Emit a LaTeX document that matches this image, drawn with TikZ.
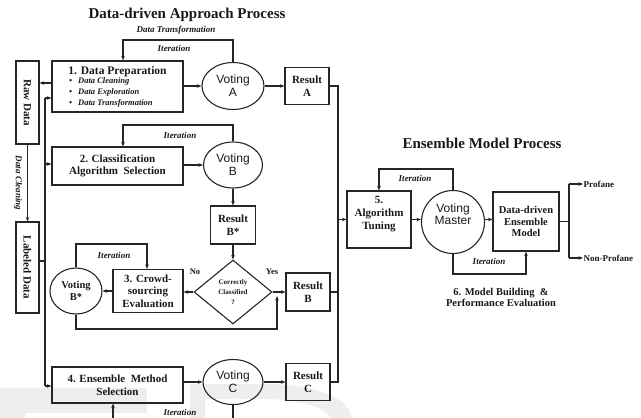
\documentclass[tikz,border=0pt]{standalone}
\usepackage{fontspec}
\setmainfont{Liberation Serif}
\newfontfamily\sansf{Liberation Sans}
\usetikzlibrary{arrows.meta,shapes.geometric}
\begin{document}
\begin{tikzpicture}[x=1pt,y=-1pt,
  ln/.style={line width=1.1pt, draw=black!85},
  arr/.style={ln, -{Stealth[length=4.5pt,width=3.6pt]}},
  boxn/.style={ln, rectangle, inner sep=0pt, align=center, text=black!90,
    font=\bfseries\fontsize{11}{12.5}\selectfont},
  vote/.style={ln, ellipse, inner sep=0pt, align=center, text=black!90,
    font=\sansf\fontsize{12}{13}\selectfont},
  itl/.style={inner sep=0pt, text=black!90, font=\bfseries\itshape\fontsize{9}{10}\selectfont},
  ttl/.style={inner sep=0pt, text=black!90, font=\bfseries\fontsize{15}{18}\selectfont},
  txt/.style={inner sep=0pt, align=center, text=black!90, font=\bfseries\fontsize{11}{12.5}\selectfont}
]
\useasboundingbox (0,0) rectangle (641,418);
\clip (0,0) rectangle (641,418);
% faint watermark
\fill[gray!13] (0,388) rectangle (147,418);
\fill[white] (25,413) rectangle (147,418);
\fill[gray!13,even odd rule] (190,384) -- (265,384) .. controls (320,384) and (350,400) .. (352,418) -- (190,418) -- cycle
  (205,399) -- (262,399) .. controls (305,399) and (328,410) .. (330,418) -- (205,418) -- cycle;

% titles
\node[ttl] (t1) at (187,15) {Data-driven Approach Process};
\node[itl] (dt) at (176,30) {Data Transformation};
\node[ttl] (t2) at (482,143) {Ensemble Model Process};

% left column
\node[boxn, minimum width=23pt, minimum height=83pt] (raw) at (27.5,102.5) {};
\node[txt, rotate=-90, font=\bfseries\fontsize{11}{13}\selectfont] (rawt) at (raw.center) {Raw Data};
\node[boxn, minimum width=23pt, minimum height=91pt] (lab) at (27.5,267.5) {};
\node[txt, rotate=-90, font=\bfseries\fontsize{11}{13}\selectfont] (labt) at (lab.center) {Labeled Data};
\node[itl, rotate=-90] (dc) at (18,183) {Data Cleaning};

% box 1
\node[boxn, minimum width=131pt, minimum height=51pt] (b1) at (117.5,86.5) {};
\node[txt, font=\bfseries\fontsize{11.5}{13}\selectfont] (b1t) at (117.5,72) {1. Data Preparation};
\node[itl, anchor=north west, align=left, font=\bfseries\itshape\fontsize{8.5}{11}\selectfont] (b1l) at (69,77)
  {\textbullet\hspace{6pt}Data Cleaning\\ \textbullet\hspace{6pt}Data Exploration\\ \textbullet\hspace{6pt}Data Transformation};
\node[vote, minimum width=62pt, minimum height=47pt] (va) at (233,86) {Voting\\A};
\node[boxn, minimum width=44pt, minimum height=37pt] (ra) at (307,86) {Result\\A};

% box 2
\node[boxn, minimum width=131pt, minimum height=38pt] (b2) at (117.5,166) {2. Classification\\Algorithm\ \ Selection};
\node[vote, minimum width=59pt, minimum height=46pt] (vb) at (233,165) {Voting\\B};
\node[boxn, minimum width=45pt, minimum height=38pt] (rbs) at (233,225) {Result\\B*};

% diamond row
\node[ln, diamond, minimum width=78pt, minimum height=64pt, inner sep=0pt] (dia) at (233,292) {};
\node[txt, font=\bfseries\fontsize{7}{10}\selectfont] (diat) at (233,292) {Correctly\\Classified\\?};
\node[boxn, minimum width=70pt, minimum height=43pt] (b3) at (148,291) {3. Crowd-\\sourcing\\Evaluation};
\node[vote, minimum width=52pt, minimum height=46pt, font=\bfseries\fontsize{10.5}{12}\selectfont] (vbs) at (76,291) {Voting\\B*};
\node[boxn, minimum width=44pt, minimum height=38pt] (rb) at (308,292) {Result\\B};
\node[txt, font=\bfseries\fontsize{8.5}{10}\selectfont] (no) at (195,272) {No};
\node[txt, font=\bfseries\fontsize{8.5}{10}\selectfont] (yes) at (272,272) {Yes};

% box 4
\node[boxn, minimum width=131pt, minimum height=36pt] (b4) at (117.5,385) {4. Ensemble\ \ Method\\Selection};
\node[vote, minimum width=60pt, minimum height=45pt] (vc) at (233,382) {Voting\\C};
\node[boxn, minimum width=44pt, minimum height=37pt] (rc) at (308,382) {Result\\C};

% iteration labels (left)
\node[itl] (i1) at (174,48) {Iteration};
\node[itl] (i2) at (180,135) {Iteration};
\node[itl] (i3) at (114,255) {Iteration};
\node[itl] (i4) at (180,412) {Iteration};

% left connectors
\coordinate (bt) at (45,98);
\coordinate (bb) at (45,386);
\draw[arr] (b1.west |- 0,83) -- (raw.east |- 0,83);
\draw[ln] (bt) -- (bb);
\draw[arr] (bt) -- (b1.west |- bt);
\draw[arr] (45,164) -- (b2.west |- 0,164);
\draw[arr] (bb) -- (b4.west |- bb);
\draw[ln] (lab.east |- 0,261) -- (45,261);
\draw[arr] (raw.south) -- (lab.north);

\draw[arr] (b1.east |- va.west) -- (va.west);
\draw[arr] (va.east) -- (ra.west |- va.east);
\draw[arr] (va.north) |- (123,40) -- (123,40 |- b1.north);

\draw[arr] (b2.east |- vb.west) -- (vb.west);
\draw[arr] (vb.north) |- (123,125) -- (123,125 |- b2.north);
\draw[arr] (vb.south) -- (rbs.north);
\draw[arr] (rbs.south) -- (dia.north);
\draw[arr] (dia.west) -- (b3.east |- dia.west);
\draw[arr] (b3.west) -- (vbs.east);
\draw[arr] (dia.east) -- (rb.west |- dia.east);
\draw[arr] (vbs.north) |- (147,244) -- (147,244 |- b3.north);
\draw[arr] (vbs.south) |- (277,329) -- (277,296);

\draw[arr] (b4.east |- vc.west) -- (vc.west);
\draw[arr] (vc.east) -- (rc.west |- vc.east);
\draw[arr] (vc.south) |- (113,430) -- (113,430 |- b4.south);

% right bus
\coordinate (rt) at (338,86);
\coordinate (rbot) at (338,382);
\draw[ln] (ra.east) -- (rt) -- (rbot) -- (rc.east);
\draw[ln] (rb.east) -- (rb.east -| rt);

% ensemble part
\node[boxn, minimum width=64pt, minimum height=57pt] (b5) at (379,219.5) {};
\node[txt, font=\bfseries\fontsize{11}{13}\selectfont] (b5t) at (379,214) {5.\\Algorithm\\Tuning};
\node[ln, circle, minimum size=63pt, inner sep=0pt] (vm) at (453,222) {};
\node[txt, font=\sansf\fontsize{12}{12.5}\selectfont] (vmt) at (453,214) {Voting\\Master};
\node[boxn, minimum width=66pt, minimum height=59pt, font=\bfseries\fontsize{10.5}{11.5}\selectfont] (dem) at (526,221.5) {Data-driven\\Ensemble\\Model};
\draw[arr] (rt |- b5.west) -- (b5.west);
\draw[arr] (b5.east) -- (b5.east -| vm.west);
\draw[arr] (vm.east |- b5.east) -- (dem.west |- b5.east);
\draw[arr] (vm.north) |- (379,169) -- (b5.north);
\draw[arr] (vm.south) |- (526,274) -- (dem.south);
\node[itl] (i5) at (415,178) {Iteration};
\node[itl] (i6) at (489,261) {Iteration};

\node[txt, anchor=west, inner sep=0.5pt, font=\bfseries\fontsize{9}{10}\selectfont] (prof) at (583,184) {Profane};
\node[txt, anchor=west, inner sep=0.5pt, font=\bfseries\fontsize{9}{10}\selectfont] (nprof) at (583,258) {Non-Profane};
\coordinate (s1) at (569,184);
\coordinate (s2) at (569,258);
\draw[ln] (dem.east) -- (dem.east -| s1);
\draw[ln] (s1) -- (s2);
\draw[arr] (s1) -- (prof.west);
\draw[arr] (s2) -- (nprof.west);

\node[txt, font=\bfseries\fontsize{10.5}{11.5}\selectfont] (mb) at (501,297.5) {6. Model Building\ \ \&\\Performance Evaluation};
\end{tikzpicture}
\end{document}
